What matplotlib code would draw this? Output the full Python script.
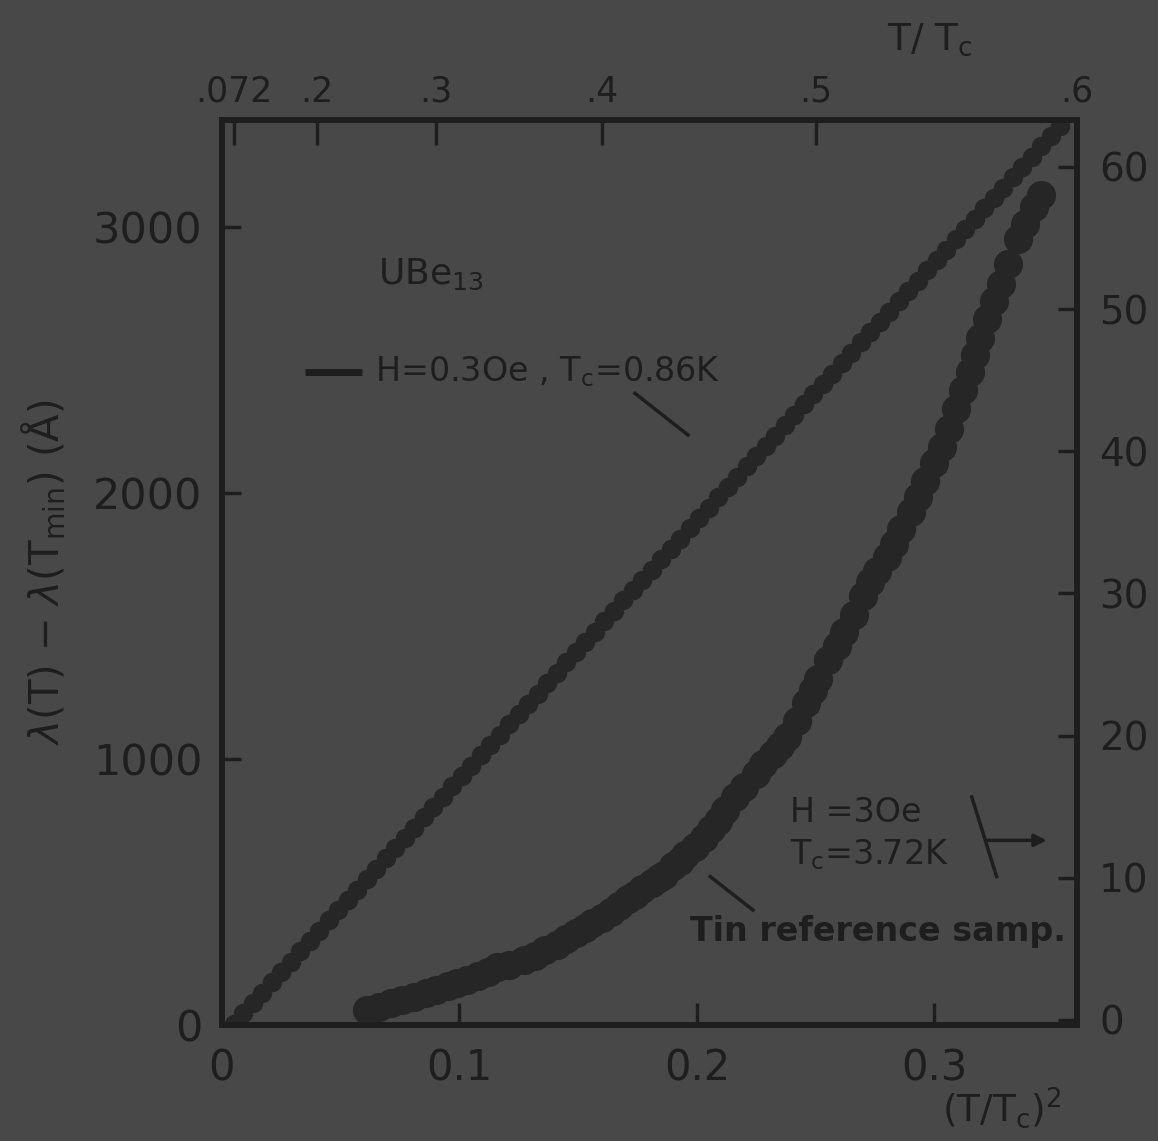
import numpy as np
import matplotlib
matplotlib.use("Agg")
import matplotlib.pyplot as plt

# ---------------- data ----------------
ube_x = [0.005, 0.009, 0.013, 0.017, 0.021, 0.025, 0.029, 0.033, 0.037, 0.041,
         0.045, 0.049, 0.053, 0.057, 0.061, 0.065, 0.069, 0.073, 0.077, 0.081,
         0.085, 0.089, 0.093, 0.097, 0.101, 0.105, 0.109, 0.113, 0.117, 0.121,
         0.125, 0.129, 0.133, 0.137, 0.141, 0.145, 0.149, 0.153, 0.157, 0.161,
         0.165, 0.169, 0.173, 0.177, 0.181, 0.185, 0.189, 0.193, 0.197, 0.201,
         0.205, 0.209, 0.213, 0.217, 0.221, 0.225, 0.229, 0.233, 0.237, 0.241,
         0.245, 0.249, 0.253, 0.257, 0.261, 0.265, 0.269, 0.273, 0.277, 0.281,
         0.285, 0.289, 0.293, 0.297, 0.301, 0.305, 0.309, 0.313, 0.317, 0.321,
         0.325, 0.329, 0.333, 0.337, 0.341, 0.345, 0.349, 0.353]
ube_y = [5, 44, 83, 121, 160, 199, 238, 277, 315, 354,
         393, 432, 470, 509, 548, 587, 626, 664, 703, 742,
         781, 820, 858, 897, 936, 975, 1014, 1052, 1091, 1130,
         1169, 1208, 1246, 1285, 1324, 1363, 1402, 1440, 1479, 1518,
         1557, 1596, 1634, 1673, 1712, 1751, 1790, 1828, 1867, 1906,
         1945, 1984, 2022, 2061, 2100, 2139, 2178, 2216, 2255, 2294,
         2333, 2372, 2410, 2449, 2488, 2527, 2566, 2604, 2643, 2682,
         2721, 2760, 2798, 2837, 2876, 2915, 2954, 2992, 3031, 3070,
         3109, 3148, 3186, 3225, 3264, 3303, 3342, 3380]

tin_x = [0.061, 0.066, 0.071, 0.076, 0.081, 0.086, 0.090, 0.095, 0.099, 0.103,
         0.108, 0.112, 0.116, 0.121, 0.127, 0.132, 0.136, 0.141, 0.145, 0.149,
         0.153, 0.156, 0.160, 0.164, 0.167, 0.171, 0.174, 0.177, 0.181, 0.184,
         0.186, 0.190, 0.193, 0.195, 0.199, 0.203, 0.206, 0.209, 0.212, 0.216,
         0.220, 0.225, 0.228, 0.232, 0.235, 0.238, 0.242, 0.246, 0.249, 0.251,
         0.255, 0.259, 0.262, 0.266, 0.270, 0.273, 0.276, 0.280, 0.283, 0.286,
         0.290, 0.293, 0.296, 0.300, 0.303, 0.306, 0.309, 0.312, 0.315, 0.317,
         0.319, 0.322, 0.325, 0.328, 0.331, 0.335, 0.338, 0.342, 0.345]
tin_y = [0.7, 0.9, 1.2, 1.4, 1.6, 1.9, 2.1, 2.4, 2.6, 2.8,
         3.1, 3.4, 3.7, 3.9, 4.2, 4.5, 4.9, 5.3, 5.7, 6.1,
         6.5, 6.8, 7.2, 7.6, 8.0, 8.5, 8.8, 9.2, 9.6, 10.0,
         10.2, 10.8, 11.2, 11.6, 12.2, 12.8, 13.4, 14.0, 14.8, 15.7,
         16.4, 17.3, 18.0, 18.7, 19.3, 19.9, 21.0, 22.3, 23.2, 24.0,
         25.3, 26.3, 27.3, 28.5, 29.8, 30.8, 31.6, 32.6, 33.5, 34.5,
         35.7, 36.8, 37.9, 39.2, 40.3, 41.6, 43.0, 44.3, 45.6, 46.8,
         48.0, 49.3, 50.6, 51.8, 53.2, 54.9, 56.0, 57.2, 58.0]

bottom_ticks = [0, 0.1, 0.2, 0.3]
bottom_labels = ["0", "0.1", "0.2", "0.3"]
left_ticks = [0, 1000, 2000, 3000]
right_ticks = [0, 10, 20, 30, 40, 50, 60]
top_values = [0.072, 0.2, 0.3, 0.4, 0.5, 0.6]
top_labels = [".072", ".2", ".3", ".4", ".5", ".6"]

# ---------------- style ----------------
BG = "#484848"
INK = "#1e1e1e"
MK = "#262626"
plt.rcParams['font.family'] = ['DejaVu Sans']
plt.rcParams['mathtext.fontset'] = 'dejavusans'

fig = plt.figure(figsize=(11.58, 11.41), dpi=100, facecolor=BG)
ax = fig.add_axes([0.1917, 0.1017, 0.7383, 0.7931])
ax.set_facecolor(BG)

ax.plot(ube_x, ube_y, 'o', ms=13, color=MK, mec=MK, zorder=3)
ax.set_xlim(0, 0.360)
ax.set_ylim(0, 3402)

axr = ax.twinx()
axr.plot(tin_x, tin_y, 'o', ms=20, color=MK, mec=MK, zorder=3)
axr.set_ylim(-0.35, 63.3)

axt = ax.twiny()
axt.set_xlim(ax.get_xlim())
axt.set_xticks([v ** 2 for v in top_values])
axt.set_xticklabels(top_labels)

for a in (ax, axr, axt):
    for s in a.spines.values():
        s.set_linewidth(4)
        s.set_color(INK)

ax.set_xticks(bottom_ticks)
ax.set_xticklabels(bottom_labels)
ax.set_yticks(left_ticks)
axr.set_yticks(right_ticks)

ax.tick_params(axis='x', direction='in', length=16, width=2.5, color=INK,
               labelcolor=INK, labelsize=30, pad=16)
ax.tick_params(axis='y', direction='in', length=14, width=2.5, color=INK,
               labelcolor=INK, labelsize=31, pad=14)
axr.tick_params(axis='y', direction='in', length=14, width=2.5, color=INK,
                labelcolor=INK, labelsize=28, pad=16)
axt.tick_params(axis='x', direction='in', length=18, width=2.5, color=INK,
                labelcolor=INK, labelsize=25, pad=8)

ax.set_ylabel(r"$\lambda$(T) $-$ $\lambda$(T$_\mathrm{min}$) (Å)", fontsize=29,
              color=INK, labelpad=18)

# axis titles
fig.text(930 / 1158, 1 - 40 / 1141, r"T/ T$_\mathrm{c}$", fontsize=27, color=INK,
         ha='center', va='center')
fig.text(1002 / 1158, 1 - 1108 / 1141, r"(T/T$_\mathrm{c}$)$^2$", fontsize=27,
         color=INK, ha='center', va='center')

# annotations (axes fraction)
T = ax.transAxes
ax.text(0.182, 0.829, r"UBe$_{13}$", transform=T, fontsize=26, color=INK,
        ha='left', va='center')
ax.plot([0.097, 0.164], [0.7215, 0.7215], transform=T, color=INK, lw=5,
        solid_capstyle='butt')
ax.text(0.179, 0.7215, r"H=0.3Oe , T$_\mathrm{c}$=0.86K", transform=T,
        fontsize=24, color=INK, ha='left', va='center')
ax.plot([0.483, 0.545], [0.698, 0.652], transform=T, color=INK, lw=2.5)

ax.text(0.664, 0.235, "H =3Oe", transform=T, fontsize=24, color=INK,
        ha='left', va='center')
ax.text(0.664, 0.188, r"T$_\mathrm{c}$=3.72K", transform=T, fontsize=24,
        color=INK, ha='left', va='center')
ax.plot([0.877, 0.906], [0.252, 0.164], transform=T, color=INK, lw=2.5)
ax.annotate("", xy=(0.968, 0.204), xytext=(0.890, 0.204), xycoords=T,
            textcoords=T, arrowprops=dict(arrowstyle='-|>', color=INK, lw=2.5,
                                          mutation_scale=18))
ax.plot([0.571, 0.621], [0.164, 0.127], transform=T, color=INK, lw=2.5)
ax.text(0.547, 0.103, "Tin reference samp.", transform=T, fontsize=24,
        fontweight='bold', color=INK, ha='left', va='center')

fig.savefig("out.png", dpi=100, facecolor=BG)
